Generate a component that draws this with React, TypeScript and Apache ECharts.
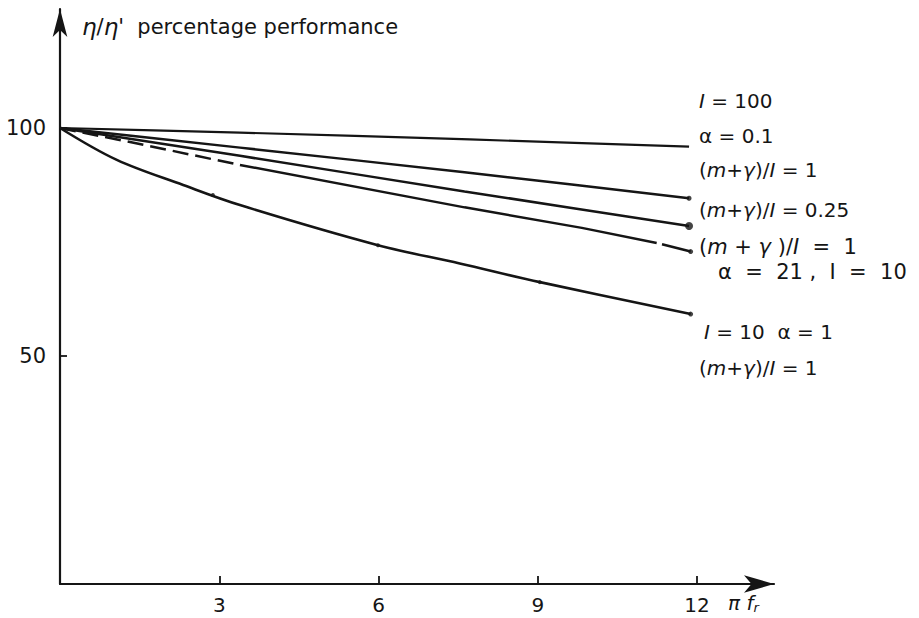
import React, { useEffect, useRef } from "react";
import * as echarts from "echarts";

// Axis ticks / labels
const xTicks = [3, 6, 9, 12];
const yTicks = [50, 100];

// Curves (x = πf_r, y = η/η' percentage performance)
const line1 = [[0, 100], [3.39, 99.0], [7.72, 97.5], [11.85, 95.9]];
const line2 = [[0, 100], [3.39, 95.7], [7.62, 90.3], [11.85, 84.6]];
const line3 = [[0, 100], [3.39, 93.9], [7.62, 86.1], [11.85, 78.5]];
const line4Dashed = [[0, 100], [1.5, 96.5], [3.39, 91.9]];
const line4Solid = [[3.39, 91.9], [7.62, 82.6], [9.83, 78.1], [11.24, 74.8]];
const line4Tail = [[11.34, 74.5], [11.88, 72.9]];
const line5 = [[0, 100], [1.07, 93.0], [2.32, 87.5], [3.39, 83.1], [5.99, 74.3], [7.53, 70.3], [9.04, 66.2], [11.88, 59.2]];
const line5Marks = [[2.88, 85.3], [5.99, 74.3], [9.04, 66.2]];

const INK = "#151515";
const FONT = "DejaVu Sans";
const LBL = 20;
const HAND = 21;

const itl = { fontStyle: "italic", fontSize: LBL, fontFamily: FONT, fill: INK } as any;
const nrm = { fontSize: LBL, fontFamily: FONT, fill: INK } as any;
const hand = { fontSize: HAND, fontFamily: FONT, fill: INK } as any;
const handI = { fontSize: HAND, fontFamily: FONT, fill: INK, fontStyle: "italic" } as any;

function label(x: number, y: number, text: string, big = false) {
  return {
    type: "text",
    x,
    y,
    silent: true,
    style: {
      text,
      fontSize: big ? HAND : LBL,
      fontFamily: FONT,
      fill: INK,
      verticalAlign: "middle",
      align: "left",
      rich: big ? { n: hand, i: handI } : { n: nrm, i: itl },
    },
  };
}

export default function App() {
  const ref = useRef<HTMLDivElement>(null);
  useEffect(() => {
    if (!ref.current) return;
    const chart = echarts.init(ref.current, undefined, { renderer: "svg" });
    const solid = (data: number[][], width = 2.5, smooth: number | boolean = false) => ({
      type: "line",
      data,
      symbol: "none",
      smooth,
      lineStyle: { color: INK, width },
      z: 3,
    });
    const last = (a: number[][]) => a[a.length - 1];
    chart.setOption({
      animation: false,
      backgroundColor: "#ffffff",
      grid: { left: 60, right: 145, top: 9, bottom: 34, containLabel: false },
      xAxis: {
        type: "value",
        min: 0,
        max: 13.45,
        interval: 3,
        splitLine: { show: false },
        axisLine: {
          show: true,
          onZero: false,
          symbol: ["none", "arrow"],
          symbolSize: [13, 30],
          lineStyle: { color: INK, width: 2.2 },
        },
        axisTick: { show: true, inside: true, length: 8, customValues: xTicks, lineStyle: { color: INK, width: 1.8 } },
        axisLabel: {
          customValues: xTicks,
          margin: 11,
          fontSize: 20,
          fontFamily: FONT,
          color: INK,
          formatter: (v: number) => (xTicks.includes(v) ? String(v) : ""),
        },
      },
      yAxis: {
        type: "value",
        min: 0,
        max: 126.1,
        interval: 50,
        splitLine: { show: false },
        axisLine: {
          show: true,
          onZero: false,
          symbol: ["none", "arrow"],
          symbolSize: [11, 28],
          lineStyle: { color: INK, width: 2.2 },
        },
        axisTick: { show: true, inside: true, length: 7, customValues: yTicks, lineStyle: { color: INK, width: 1.8 } },
        axisLabel: {
          customValues: yTicks,
          margin: 14,
          fontSize: 21,
          fontFamily: FONT,
          color: INK,
          formatter: (v: number) => (yTicks.includes(v) ? String(v) : ""),
        },
      },
      series: [
        solid(line1, 2.2, 0.2),
        solid(line2, 2.5, 0.2),
        solid(line3, 2.5, 0.2),
        { ...solid(line4Dashed), lineStyle: { color: INK, width: 2.5, type: [16, 7] } },
        solid(line4Solid),
        solid(line4Tail),
        solid(line5, 2.6, 0.35),
        {
          type: "scatter",
          data: line5Marks,
          symbol: "circle",
          symbolSize: 4,
          itemStyle: { color: INK },
          z: 4,
        },
        {
          type: "scatter",
          data: [last(line2), last(line4Tail), last(line5)],
          symbol: "circle",
          symbolSize: 5,
          itemStyle: { color: INK },
          z: 4,
        },
        {
          type: "scatter",
          data: [last(line3)],
          symbol: "circle",
          symbolSize: 8,
          itemStyle: { color: INK },
          z: 4,
        },
      ],
      graphic: [
        {
          type: "text",
          x: 82,
          y: 27,
          silent: true,
          style: {
            text: "{i|η}{n|/}{i|η}{n|'  percentage performance}",
            fontSize: 21,
            fontFamily: FONT,
            fill: INK,
            verticalAlign: "middle",
            rich: {
              n: { fontSize: 21, fontFamily: FONT, fill: INK },
              i: { fontStyle: "italic", fontSize: 23, fontFamily: FONT, fill: INK },
            },
          },
        },
        {
          type: "text",
          x: 728,
          y: 603,
          silent: true,
          style: {
            text: "{i|π f}{s|r}",
            fontSize: 20,
            fontFamily: FONT,
            fill: INK,
            verticalAlign: "middle",
            rich: {
              i: { fontStyle: "italic", fontSize: 20, fontFamily: FONT, fill: INK },
              s: { fontSize: 13, fontFamily: FONT, fill: INK, fontStyle: "italic", verticalAlign: "bottom", padding: [8, 0, 0, 0] },
            },
          },
        },
        label(699, 101, "{i|I}{n| = 100}"),
        label(699, 136, "{n|α = 0.1}"),
        label(699, 170, "{n|(}{i|m}{n|+}{i|γ}{n|)/}{i|I}{n| = 1}"),
        label(699, 210, "{n|(}{i|m}{n|+}{i|γ}{n|)/}{i|I}{n| = 0.25}"),
        label(699, 247, "{n|(}{i|m}{n| + }{i|γ}{n| )/}{i|I}{n|  =  1}", true),
        label(718, 272, "{n|α  =  21 ,  I  =  10}", true),
        label(704, 332, "{i|I}{n| = 10  α = 1}"),
        label(699, 368, "{n|(}{i|m}{n|+}{i|γ}{n|)/}{i|I}{n| = 1}"),
      ],
    });
    return () => chart.dispose();
  }, []);
  return (
    <div
      ref={ref}
      style={{ position: "absolute", left: 0, top: 0, width: 919, height: 618 }}
    />
  );
}
